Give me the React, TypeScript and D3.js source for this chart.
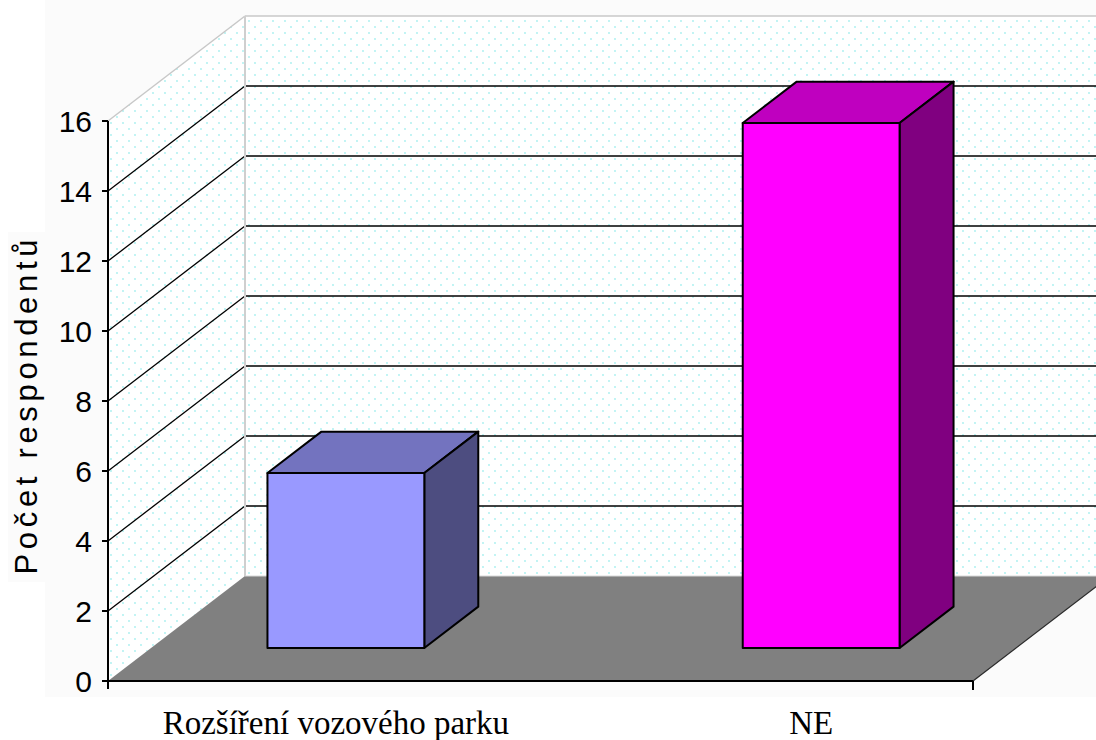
import React from "react";
import * as d3 from "d3";

// Survey answers: number of respondents per answer
const categories: string[] = ["Rozšíření vozového parku", "NE"];
const respondents: number[] = [5, 15];
const yTicks: number[] = [0, 2, 4, 6, 8, 10, 12, 14, 16];
const yTitle = "Počet respondentů";

// Face colours for each column: front, top, side
const frontColors = ["#9999FF", "#FF00FF"];
const topColors = ["#7373BF", "#BF00BF"];
const sideColors = ["#4D4D80", "#800080"];

const W = 1096;
const H = 740;

// Oblique depth vector (full depth of the plot box)
const DX = 137;
const DY = -105;
// Depth range occupied by the columns (fractions of full depth)
const BAR_FRONT = 0.314;
const BAR_BACK = 0.708;

export default function App() {
  const x0 = 108;
  const x1 = 973;

  const y = d3.scaleLinear().domain([0, 16]).range([681, 121]);
  const x = d3
    .scaleBand<string>()
    .domain(categories)
    .range([x0, x1])
    .paddingInner(0.67)
    .paddingOuter(0.245);
  const bw = x.bandwidth();

  const off = (d: number) => [DX * d, DY * d];
  const [fx, fy] = off(BAR_FRONT);
  const [bx, by] = off(BAR_BACK);
  const [wx, wy] = off(1);

  const pts = (p: number[][]) => p.map((q) => q.join(",")).join(" ");

  const backLeft = x0 + wx;
  const backRight = x1 + wx;
  const yFloorBack = y(0) + wy;
  const yTopBack = y(16) + wy;

  return (
    <svg
      width={W}
      height={H}
      style={{ position: "fixed", left: 0, top: 0, display: "block" }}
      xmlns="http://www.w3.org/2000/svg"
    >
      <defs>
        <pattern id="wallDots" width="12" height="12" patternUnits="userSpaceOnUse">
          <rect width="12" height="12" fill="#ffffff" />
          <circle cx="3" cy="3" r="0.9" fill="#a6f0f0" />
          <circle cx="9" cy="9" r="0.9" fill="#a6f0f0" />
        </pattern>
      </defs>

      <rect x={0} y={0} width={W} height={H} fill="#ffffff" />
      <rect x={45} y={0} width={W - 45} height={697} fill="#fbfbfb" />
      <rect x={8} y={232} width={37} height={350} fill="#fbfbfb" />

      {/* back wall */}
      <rect
        x={backLeft}
        y={yTopBack}
        width={backRight - backLeft}
        height={yFloorBack - yTopBack}
        fill="url(#wallDots)"
      />
      {/* side wall */}
      <polygon
        points={pts([
          [x0, y(0)],
          [x0, y(16)],
          [backLeft, yTopBack],
          [backLeft, yFloorBack],
        ])}
        fill="url(#wallDots)"
      />

      {/* gridlines on both walls */}
      {yTicks
        .filter((v) => v > 0)
        .map((v) => {
          const c = v === 16 ? "#c8c8c8" : "#000000";
          const sw = v === 16 ? 1.5 : 1.3;
          return (
            <g key={"g" + v}>
              <line x1={x0} y1={y(v)} x2={backLeft} y2={y(v) + wy} stroke={c} strokeWidth={sw} />
              <line x1={backLeft} y1={y(v) + wy} x2={backRight} y2={y(v) + wy} stroke={c} strokeWidth={sw} />
            </g>
          );
        })}
      {/* wall corner edge */}
      <line x1={backLeft} y1={yTopBack} x2={backLeft} y2={yFloorBack} stroke="#cfcfcf" strokeWidth={2} />

      {/* floor */}
      <polygon
        points={pts([
          [x0, y(0)],
          [x1, y(0)],
          [backRight, yFloorBack],
          [backLeft, yFloorBack],
        ])}
        fill="#808080"
      />
      <line x1={backLeft} y1={yFloorBack} x2={backRight} y2={yFloorBack} stroke="#d8d8d8" strokeWidth={1} />
      <line x1={x1} y1={y(0)} x2={backRight} y2={yFloorBack} stroke="#2a2a2a" strokeWidth={1.2} />

      {/* columns */}
      {categories.map((c, i) => {
        const v = respondents[i];
        const l = (x(c) as number) + fx;
        const r = l + bw;
        const t = y(v) + fy;
        const b = y(0) + fy;
        const ddx = bx - fx;
        const ddy = by - fy;
        return (
          <g key={c} stroke="#000000" strokeWidth={2} strokeLinejoin="round">
            <polygon
              points={pts([
                [l, t],
                [r, t],
                [r + ddx, t + ddy],
                [l + ddx, t + ddy],
              ])}
              fill={topColors[i]}
            />
            <polygon
              points={pts([
                [r, t],
                [r + ddx, t + ddy],
                [r + ddx, b + ddy],
                [r, b],
              ])}
              fill={sideColors[i]}
            />
            <rect x={l} y={t} width={bw} height={b - t} fill={frontColors[i]} />
          </g>
        );
      })}

      {/* value axis */}
      <line x1={x0} y1={y(16)} x2={x0} y2={y(0) + 8} stroke="#000000" strokeWidth={2} />
      {yTicks.map((v) => (
        <g key={"t" + v}>
          <line x1={x0 - 6} y1={y(v)} x2={x0} y2={y(v)} stroke="#000000" strokeWidth={2} />
          <text
            x={x0 - 16}
            y={y(v)}
            dy="0.36em"
            textAnchor="end"
            fontFamily="'Liberation Sans', Arial, sans-serif"
            fontSize={30}
            fill="#000000"
          >
            {v}
          </text>
        </g>
      ))}

      {/* category axis */}
      <line x1={x0} y1={y(0)} x2={x1} y2={y(0)} stroke="#000000" strokeWidth={2.2} />
      <line x1={x1} y1={y(0)} x2={x1} y2={y(0) + 9} stroke="#000000" strokeWidth={2} />
      {categories.map((c) => (
        <text
          key={"l" + c}
          x={(x(c) as number) + bw / 2 + 33}
          y={734}
          textAnchor="middle"
          fontFamily="'Liberation Serif', 'Times New Roman', serif"
          fontSize={33}
          fill="#000000"
        >
          {c}
        </text>
      ))}

      {/* axis title */}
      <text
        transform={`translate(37, ${(y(0) + y(16)) / 2 + 6}) rotate(-90)`}
        textAnchor="middle"
        fontFamily="'Liberation Sans', Arial, sans-serif"
        fontSize={31}
        textLength={335}
        lengthAdjust="spacing"
        fill="#000000"
      >
        {yTitle}
      </text>
    </svg>
  );
}
